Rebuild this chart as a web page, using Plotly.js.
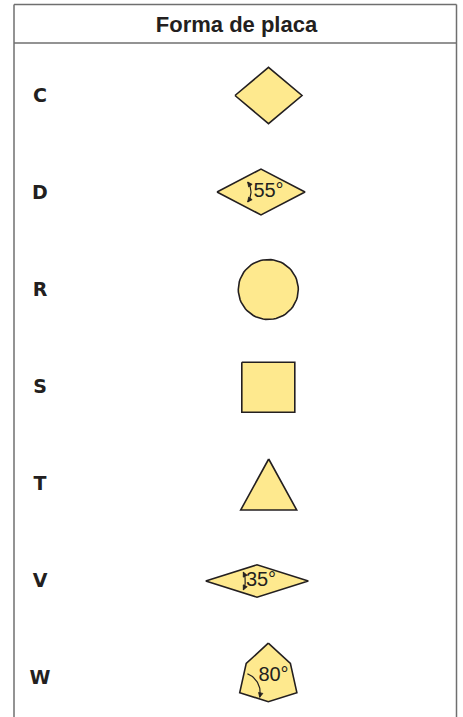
<!DOCTYPE html>
<html><head><meta charset="utf-8">
<script src="https://cdn.plot.ly/plotly-3.0.1.min.js"></script>
<style>html,body{margin:0;padding:0;background:#fff}</style>
</head><body><div id="chart" style="width:463px;height:717px"></div>
<script>
// ---- data ----
const headerTitle = 'Forma de placa';
const codes = ['C', 'D', 'R', 'S', 'T', 'V', 'W'];
const shapeKinds = ['rhombus', 'rhombus', 'round', 'square', 'triangle', 'rhombus', 'trigon'];
const cornerAngles = [80, 55, null, 90, 60, 35, 80];
const angleLabels = ['', '55°', '', '', '', '35°', '80°'];

// ---- layout constants (pixel-like units) ----
const W = 463, H = 717;
const FILL = '#FEE98E', INK = '#231F20', FRAME = '#6F6F6F';
const rowY = i => 95.5 + 97 * i;
const geom = {
  C: {cx: 268.5, dy: 0, hw: 33.5},
  D: {cx: 261, dy: -0.5, hw: 44, arc: {off: 17.2, r: 16.8, half: 36.5, both: true}, lx: 268.5},
  R: {cx: 268.3, dy: 0, r: 30},
  S: {cx: 268.3, dy: 0.8, w: 53, h: 50},
  T: {cx: 268.7, dy: 1, base: 56, ht: 51},
  V: {cx: 257, dy: 0.5, hw: 51.3, arc: {off: 18.6, r: 21, half: 25, both: true}, lx: 261},
  W: {cx: 268.3, dy: -1.3, R1: 33, R2: 25.5, lx: 273.5, ly: -0.3}
};

const traces = [];
const deg = Math.PI / 180;

function poly(xs, ys) {
  traces.push({x: xs.concat([xs[0]]), y: ys.concat([ys[0]]), mode: 'lines', fill: 'toself',
    fillcolor: FILL, line: {color: INK, width: 1.6}, hoverinfo: 'skip', showlegend: false});
}
function arrowHead(x, y, dx, dy) {
  const L = 4.5, Wd = 2.2;
  const n = Math.hypot(dx, dy); dx /= n; dy /= n;
  const bx = x - dx * L, by = y - dy * L;
  traces.push({x: [x, bx - dy * Wd, bx + dy * Wd, x], y: [y, by + dx * Wd, by - dx * Wd, y],
    mode: 'lines', fill: 'toself', fillcolor: INK, line: {color: INK, width: 0.8},
    hoverinfo: 'skip', showlegend: false});
}
function arc(px, py, r, a0, a1, startArrow, endArrow) {
  const xs = [], ys = [];
  for (let k = 0; k <= 30; k++) {
    const t = (a0 + (a1 - a0) * k / 30) * deg;
    xs.push(px + r * Math.cos(t)); ys.push(py + r * Math.sin(t));
  }
  traces.push({x: xs, y: ys, mode: 'lines', line: {color: INK, width: 1.2}, hoverinfo: 'skip', showlegend: false});
  if (endArrow) { const t = a1 * deg; arrowHead(xs[30], ys[30], -Math.sin(t), Math.cos(t)); }
  if (startArrow) { const t = a0 * deg; arrowHead(xs[0], ys[0], Math.sin(t), -Math.cos(t)); }
}

const labX = [], labY = [], labT = [];
codes.forEach((c, i) => {
  const g = geom[c];
  const cy = rowY(i) + g.dy;
  const kind = shapeKinds[i];
  if (kind === 'rhombus') {
    const hh = g.hw * Math.tan(cornerAngles[i] / 2 * deg);
    poly([g.cx - g.hw, g.cx, g.cx + g.hw, g.cx], [cy, cy - hh, cy, cy + hh]);
    if (g.arc) arc(g.cx - g.hw + g.arc.off, cy, g.arc.r, -g.arc.half, g.arc.half, g.arc.both, true);
  } else if (kind === 'round') {
    const xs = [], ys = [];
    for (let k = 0; k < 72; k++) { const t = k * 5 * deg; xs.push(g.cx + g.r * Math.cos(t)); ys.push(cy + g.r * Math.sin(t)); }
    poly(xs, ys);
  } else if (kind === 'square') {
    poly([g.cx - g.w / 2, g.cx + g.w / 2, g.cx + g.w / 2, g.cx - g.w / 2],
         [cy - g.h / 2, cy - g.h / 2, cy + g.h / 2, cy + g.h / 2]);
  } else if (kind === 'triangle') {
    poly([g.cx, g.cx + g.base / 2, g.cx - g.base / 2], [cy - g.ht / 2, cy + g.ht / 2, cy + g.ht / 2]);
  } else if (kind === 'trigon') {
    const xs = [], ys = [];
    for (let k = 0; k < 6; k++) {
      const t = (-90 + 60 * k) * deg, r = k % 2 === 0 ? g.R1 : g.R2;
      xs.push(g.cx + r * Math.cos(t)); ys.push(cy + r * Math.sin(t));
    }
    poly(xs, ys);
    // arc at lower-left main corner (index 4)
    arc(xs[4], ys[4], 20.5, -68, 13, false, true);
  }
  if (angleLabels[i]) {
    labX.push(g.lx); labY.push(cy + (g.ly || 0)); labT.push(angleLabels[i]);
  }
});

// angle labels
traces.push({x: labX, y: labY, text: labT, mode: 'text', textposition: 'middle center',
  textfont: {family: 'Liberation Sans, Arial', size: 20, color: INK},
  hoverinfo: 'skip', showlegend: false});
// row codes
traces.push({x: codes.map(() => 40), y: codes.map((c, i) => rowY(i) + 1.5), text: codes.map(c => '<b>' + c + '</b>'),
  mode: 'text', textposition: 'middle center',
  textfont: {family: 'DejaVu Sans, Liberation Sans, Arial', size: 19, color: INK},
  hoverinfo: 'skip', showlegend: false});

const frame = [
  {x0: 14, x1: 456.5, y0: 4.5, y1: 4.5},
  {x0: 14, x1: 456.5, y0: 43, y1: 43},
  {x0: 14, x1: 14, y0: 4.5, y1: 730},
  {x0: 456.5, x1: 456.5, y0: 4.5, y1: 730}
].map(s => Object.assign({type: 'line', xref: 'x', yref: 'y', line: {color: FRAME, width: 1.5}, layer: 'below'}, s));

const layout = {
  width: W, height: H, margin: {l: 0, r: 0, t: 0, b: 0},
  paper_bgcolor: '#fff', plot_bgcolor: '#fff',
  xaxis: {range: [0, W], visible: false, fixedrange: true},
  yaxis: {range: [H, 0], visible: false, fixedrange: true},
  title: {text: '<b>' + headerTitle + '</b>', font: {family: 'Liberation Sans, Arial', size: 22, color: INK},
    x: 236.5 / W, xanchor: 'center', xref: 'paper', y: 1 - 24 / H, yanchor: 'middle', yref: 'container'},
  shapes: frame,
  showlegend: false
};
Plotly.newPlot('chart', traces, layout, {staticPlot: true, displayModeBar: false});
</script></body></html>
